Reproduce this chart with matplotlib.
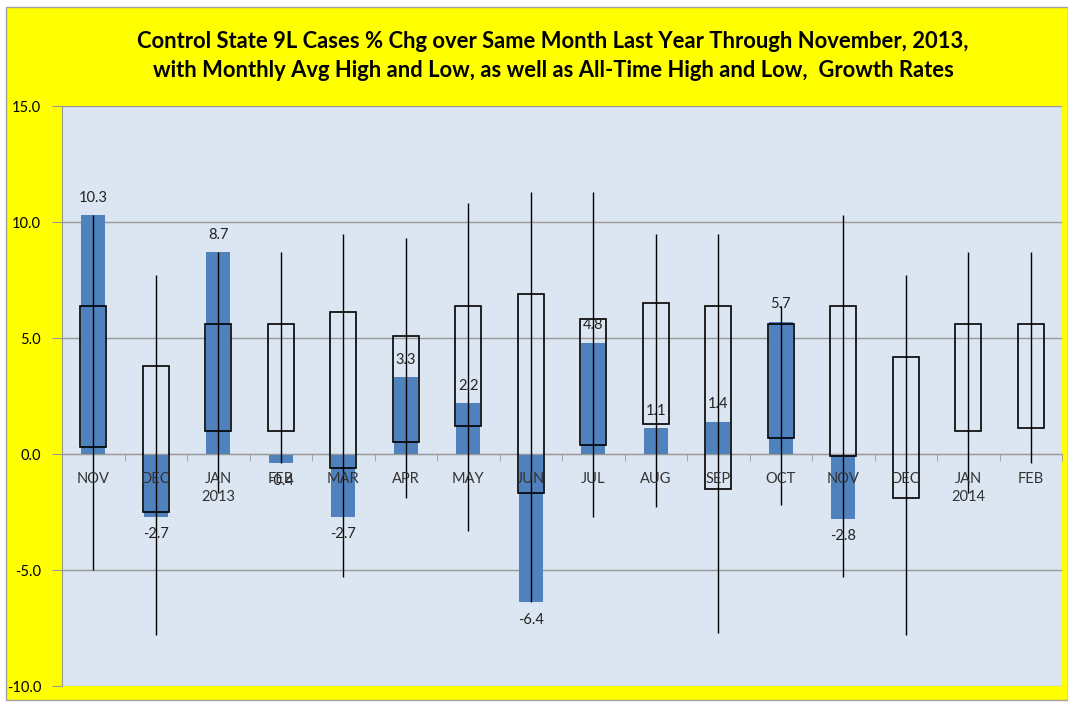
import numpy as np
import matplotlib
matplotlib.use('Agg')
import matplotlib.pyplot as plt
from matplotlib.patches import Rectangle

plt.rcParams['font.family'] = ['Lato', 'DejaVu Sans']

# ------------------- data -------------------
months = ['NOV', 'DEC', 'JAN\n2013', 'FEB', 'MAR', 'APR', 'MAY', 'JUN',
          'JUL', 'AUG', 'SEP', 'OCT', 'NOV', 'DEC', 'JAN\n2014', 'FEB']
growth = [10.3, -2.7, 8.7, -0.4, -2.7, 3.3, 2.2, -6.4, 4.8, 1.1, 1.4, 5.7, -2.8]
avg_high = [6.4, 3.8, 5.6, 5.6, 6.1, 5.1, 6.4, 6.9, 5.8, 6.5, 6.4, 5.6, 6.4, 4.2, 5.6, 5.6]
avg_low = [0.3, -2.5, 1.0, 1.0, -0.6, 0.5, 1.2, -1.7, 0.4, 1.3, -1.5, 0.7, -0.1, -1.9, 1.0, 1.1]
all_high = [10.3, 7.7, 8.7, 8.7, 9.5, 9.3, 10.8, 11.3, 11.3, 9.5, 9.5, 6.4, 10.3, 7.7, 8.7, 8.7]
all_low = [-5.0, -7.8, -1.7, -0.4, -5.3, -1.9, -3.3, -6.4, -2.7, -2.3, -7.7, -2.2, -5.3, -7.8, -1.7, -0.4]

title = ('Control State 9L Cases % Chg over Same Month Last Year Through November, 2013,\n'
         'with Monthly Avg High and Low, as well as All-Time High and Low,  Growth Rates')

W, H = 1068, 702
fig = plt.figure(figsize=(W / 100, H / 100), dpi=100, facecolor='white')

# yellow chart area
fig.patches.append(Rectangle((6 / W, 2 / H), (W - 6) / W, (H - 9) / H,
                             transform=fig.transFigure, facecolor='#FFFF00',
                             edgecolor='#A0A0A0', lw=1, zorder=-5))

ax = fig.add_axes([62 / W, 1 - 686 / H, 1000 / W, 580 / H])
ax.set_facecolor('#DCE6F2')

x = np.arange(len(months))

# bars for growth
bars = ax.bar(x[:len(growth)], growth, width=0.38, color='#4F81BD', zorder=2)

# all-time high/low lines
ax.vlines(x, all_low, all_high, color='black', lw=1.0, zorder=4)

# monthly avg high/low boxes
for i in range(len(months)):
    ax.add_patch(Rectangle((x[i] - 0.21, avg_low[i]), 0.42, avg_high[i] - avg_low[i],
                           fill=False, edgecolor='black', lw=1.2, zorder=3))

# data labels
for i, v in enumerate(growth):
    if v >= 0:
        ax.text(x[i], v + 0.45, f'{v:.1f}', ha='center', va='bottom', fontsize=10.5, color='#222222', zorder=5)
    else:
        ax.text(x[i], v - 0.45, f'{v:.1f}', ha='center', va='top', fontsize=10.5, color='#222222', zorder=5)

ax.set_xlim(-0.5, len(months) - 0.5)
ax.set_ylim(-10, 15)
ax.set_yticks(np.arange(-10, 16, 5))
ax.set_yticklabels([f'{t:.1f}' for t in np.arange(-10, 16, 5)], fontsize=10.5)
ax.yaxis.grid(True, color='#999999', lw=1)
ax.set_axisbelow(True)
ax.xaxis.set_zorder(6)   # month labels over the bars

ax.spines['bottom'].set_position(('data', 0))
ax.spines['bottom'].set_color('#999999')
ax.spines['left'].set_color('#999999')
ax.spines['top'].set_visible(False)
ax.spines['right'].set_visible(False)

ax.set_xticks(x)
ax.set_xticklabels(months, fontsize=10.5, color='#333333', linespacing=1.35)
ax.set_xticks(np.arange(-0.5, len(months), 1), minor=True)
ax.tick_params(axis='x', which='major', length=0, pad=13)
ax.tick_params(axis='x', which='minor', length=5, color='#999999')
ax.tick_params(axis='y', length=7, color='#999999', pad=8)

fig.text(553 / W, 1 - 56 / H, title, ha='center', va='center', fontsize=15.8,
         fontweight='bold', linespacing=1.42)

fig.savefig('out.png', dpi=100, facecolor=fig.get_facecolor())
